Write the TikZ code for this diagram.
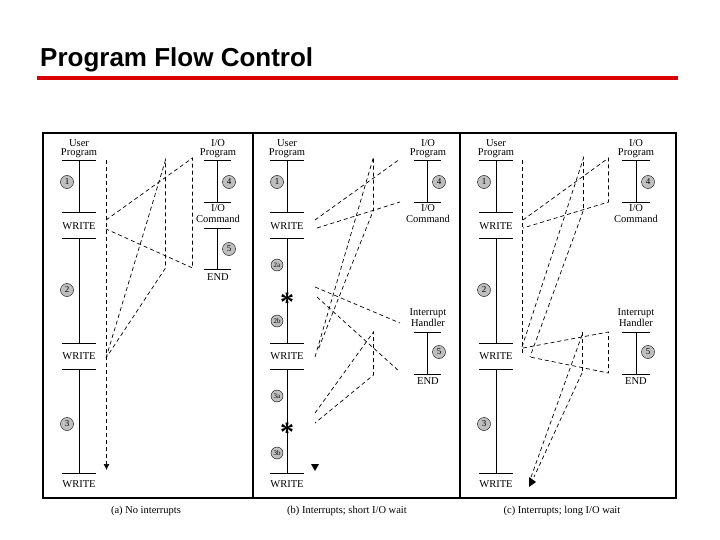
\documentclass[tikz,border=0pt]{standalone}
\usepackage{fontspec}
\setmainfont{Liberation Serif}
\newfontfamily\titlefont{Liberation Sans}
\usetikzlibrary{arrows.meta}
\tikzset{
  lbl/.style={font=\fontsize{10.5}{10.5}\selectfont, inner sep=0pt},
  num/.style={circle, draw, fill=lightgray, minimum size=13pt, inner sep=0pt, font=\fontsize{9}{9}\selectfont},
  flow/.style={dash pattern=on 4pt off 3pt, line width=0.7pt},
  seg/.style={line width=0.9pt}
}
\begin{document}
\begin{tikzpicture}[x=1pt,y=-1pt]
\useasboundingbox (0,0) rectangle (720,540);

\node[anchor=base west, inner sep=0pt] (title) at (40,67) {\titlefont\bfseries\fontsize{26}{26}\selectfont Program Flow Control};
\fill[red!85!black] (37,76) rectangle (678,80);

\draw[line width=1.6pt] (43,133) rectangle (676,498);
\draw[line width=1.6pt] (253,133) -- (253,498);
\draw[line width=1.6pt] (460,133) -- (460,498);

% (a)
\node[lbl] at (79,143) {User};
\node[lbl] at (79,153) {Program};
\draw[seg] (62,160) -- (96,160) (79,160) -- (79,212) (62,212) -- (96,212);
\node[lbl] at (79,226) {WRITE};
\draw[seg] (62,238) -- (96,238) (79,238) -- (79,343) (62,343) -- (96,343);
\node[lbl] at (79,356) {WRITE};
\draw[seg] (62,369) -- (96,369) (79,369) -- (79,473) (62,473) -- (96,473);
\node[lbl] at (79,484) {WRITE};
\node[num] at (67,182) {1};
\node[num] at (67,290) {2};
\node[num] at (67,424) {3};
\node[lbl] at (218,143) {I/O};
\node[lbl] at (218,153) {Program};
\draw[seg] (204,160) -- (231,160) (217,160) -- (217,202) (204,202) -- (231,202);
\node[lbl] at (218,208) {I/O};
\node[lbl] at (218,219) {Command};
\draw[seg] (204,228) -- (231,228) (217,228) -- (217,269) (204,269) -- (231,269);
\node[lbl] at (218,277) {END};
\node[num] at (229,182) {4};
\node[num] at (229,249) {5};
\draw[flow, -{Latex[length=6pt,width=6pt]}] (106.5,160) -- (106.5,470);
\draw[flow] (106,220) -- (192.5,158) -- (192.5,268) -- (106,229);
\draw[flow] (106,358) -- (165.5,160) -- (165.5,268) -- (106,358);
\node[lbl] at (146,511) {(a) No interrupts};

% (b)
\node[lbl] at (287,143) {User};
\node[lbl] at (287,153) {Program};
\draw[seg] (270,160) -- (304,160) (287,160) -- (287,212) (270,212) -- (304,212);
\node[lbl] at (287,226) {WRITE};
\draw[seg] (270,238) -- (304,238) (287,238) -- (287,343) (270,343) -- (304,343);
\node[lbl] at (287,356) {WRITE};
\draw[seg] (270,369) -- (304,369) (287,369) -- (287,473) (270,473) -- (304,473);
\node[lbl] at (287,484) {WRITE};
\node[num] at (277,182) {1};
\node[num, minimum size=12pt, font=\fontsize{7}{7}\selectfont] at (277,265) {2a};
\node[num, minimum size=12pt, font=\fontsize{7}{7}\selectfont] at (277,321) {2b};
\node[num, minimum size=12pt, font=\fontsize{7}{7}\selectfont] at (277,396) {3a};
\node[num, minimum size=12pt, font=\fontsize{7}{7}\selectfont] at (277,453) {3b};
\node[inner sep=0pt, font=\fontsize{28}{28}\selectfont\bfseries] at (287,302) {*};
\node[inner sep=0pt, font=\fontsize{28}{28}\selectfont\bfseries] at (287,432) {*};
\node[lbl] at (428,143) {I/O};
\node[lbl] at (428,153) {Program};
\draw[seg] (414,160) -- (441,160) (427,160) -- (427,202) (414,202) -- (441,202);
\node[lbl] at (428,208) {I/O};
\node[lbl] at (428,219) {Command};
\node[num] at (439,182) {4};
\node[lbl] at (428,313) {Interrupt};
\node[lbl] at (428,323) {Handler};
\draw[seg] (414,332) -- (441,332) (427,332) -- (427,374) (414,374) -- (441,374);
\node[lbl] at (428,381) {END};
\node[num] at (439,352) {5};
\draw[flow] (315,220) -- (400,159);
\draw[flow] (317,228) -- (400,202);
\draw[flow] (315,357) -- (373.5,157) -- (373.5,210) -- (318,350);
\draw[flow] (315,287) -- (400,323);
\draw[flow] (317,297) -- (400,372);
\draw[flow] (315,413) -- (373.5,332) -- (373.5,375) -- (315,423);
\fill (311,464) -- (319,464) -- (315,471) -- cycle;
\node[lbl] at (347,511) {(b) Interrupts; short I/O wait};

% (c)
\node[lbl] at (496,143) {User};
\node[lbl] at (496,153) {Program};
\draw[seg] (479,160) -- (513,160) (496,160) -- (496,212) (479,212) -- (513,212);
\node[lbl] at (496,226) {WRITE};
\draw[seg] (479,238) -- (513,238) (496,238) -- (496,343) (479,343) -- (513,343);
\node[lbl] at (496,356) {WRITE};
\draw[seg] (479,369) -- (513,369) (496,369) -- (496,473) (479,473) -- (513,473);
\node[lbl] at (496,484) {WRITE};
\node[num] at (484,182) {1};
\node[num] at (484,290) {2};
\node[num] at (484,424) {3};
\node[lbl] at (636,143) {I/O};
\node[lbl] at (636,153) {Program};
\draw[seg] (622,160) -- (650,160) (636,160) -- (636,202) (622,202) -- (650,202);
\node[lbl] at (636,208) {I/O};
\node[lbl] at (636,219) {Command};
\node[num] at (648,182) {4};
\node[lbl] at (636,313) {Interrupt};
\node[lbl] at (636,323) {Handler};
\draw[seg] (622,332) -- (650,332) (636,332) -- (636,374) (622,374) -- (650,374);
\node[lbl] at (636,381) {END};
\node[num] at (648,352) {5};
\draw[flow] (522.5,160) -- (522.5,355);
\draw[flow] (523,220) -- (608.5,158) -- (608.5,202) -- (523,228);
\draw[flow] (522,347) -- (583.5,158) -- (583.5,210) -- (530,357);
\draw[flow] (523,348) -- (608.5,332) -- (608.5,373) -- (530,357);
\draw[flow] (582.5,332) -- (582.5,373);
\draw[flow] (582,335) -- (530,480);
\draw[flow] (582,373) -- (534,477);
\fill (529,477) -- (536,482) -- (529,487) -- cycle;
\node[lbl] at (562,511) {(c) Interrupts; long I/O wait};
\end{tikzpicture}
\end{document}
